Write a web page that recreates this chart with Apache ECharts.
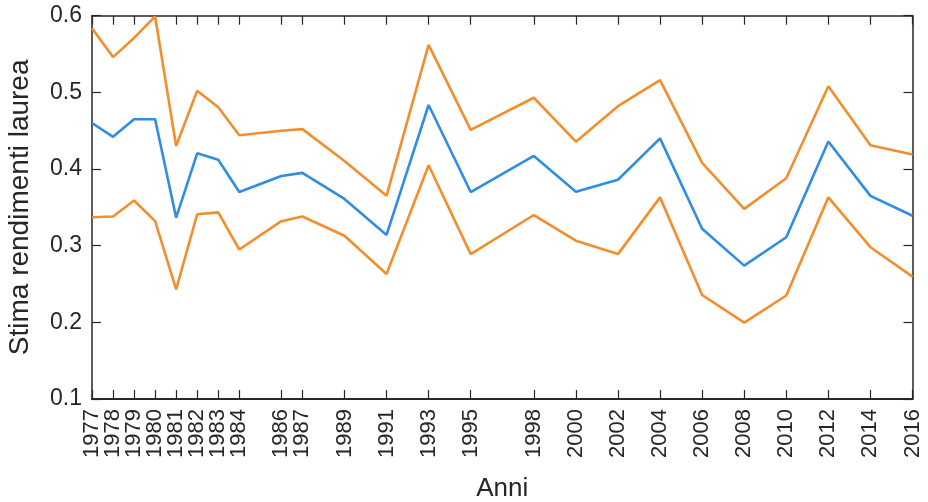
<!DOCTYPE html>
<html>
<head>
<meta charset="utf-8">
<script src="https://cdn.jsdelivr.net/npm/echarts@6/dist/echarts.min.js"></script>
<style>
html,body{margin:0;padding:0;background:#fff;}
#chart{width:928px;height:502px;}
</style>
</head>
<body>
<div id="chart"></div>
<script>
var years = [1977,1978,1979,1980,1981,1982,1983,1984,1986,1987,1989,1991,1993,1995,1998,2000,2002,2004,2006,2008,2010,2012,2014,2016];
var stima = [0.460,0.442,0.465,0.465,0.3365,0.4205,0.412,0.370,0.391,0.395,0.361,0.314,0.4835,0.370,0.417,0.3705,0.386,0.440,0.322,0.274,0.311,0.436,0.365,0.339];
var upper = [0.5835,0.546,0.571,0.599,0.430,0.502,0.4805,0.444,0.450,0.452,0.4105,0.365,0.562,0.451,0.493,0.4357,0.482,0.516,0.408,0.348,0.388,0.508,0.431,0.419];
var lower = [0.337,0.338,0.359,0.332,0.243,0.341,0.3435,0.295,0.332,0.338,0.313,0.263,0.405,0.289,0.340,0.3065,0.289,0.363,0.2357,0.1996,0.235,0.363,0.298,0.2596];
var yTicks = [0.1,0.2,0.3,0.4,0.5,0.6];
var xName = 'Anni';
var yName = 'Stima rendimenti laurea';

function pairs(vals){ return years.map(function(y,i){ return [y, vals[i]]; }); }
// split tick labels into two alternating sets so that neighbours never collide
var yearsA = years.filter(function(y,i){ return i % 2 === 0; });
var yearsB = years.filter(function(y,i){ return i % 2 === 1; });

var txt = '#262626';
var font = 'Liberation Sans, Arial, Helvetica, sans-serif';
function axisLine(){ return {show:true, onZero:false, lineStyle:{color:txt, width:1.5}}; }
function tick(vals){ var t = {show:true, inside:true, length:9, lineStyle:{color:txt, width:1.2}}; if (vals) t.customValues = vals; return t; }
function xLabel(vals){
  return {show:true, customValues:vals, showMinLabel:true, showMaxLabel:true, hideOverlap:false, rotate:90, margin:10, color:txt, fontSize:22, fontFamily:font, formatter:function(v){return String(v);}};
}

var chart = echarts.init(document.getElementById('chart'), null, {renderer:'canvas'});
chart.setOption({
  animation:false,
  backgroundColor:'#fff',
  grid:{left:92, right:15.5, top:15.7, bottom:103, containLabel:false, outerBoundsMode:'none'},
  xAxis:[{
    type:'value', min:1977, max:2016, position:'bottom',
    name:xName, nameLocation:'middle', nameGap:77,
    nameTextStyle:{color:txt, fontSize:26, fontFamily:font},
    axisLine:axisLine(),
    axisTick:{show:false},
    axisLabel:xLabel(yearsA),
    splitLine:{show:false}
  },{
    type:'value', min:1977, max:2016, position:'top',
    axisLine:axisLine(),
    axisTick:tick(years),
    axisLabel:{show:false},
    splitLine:{show:false}
  },{
    type:'value', min:1977, max:2016, position:'bottom',
    axisLine:axisLine(),
    axisTick:{show:false},
    axisLabel:xLabel(yearsB),
    splitLine:{show:false}
  },{
    type:'value', min:1977, max:2016, position:'bottom',
    axisLine:axisLine(),
    axisTick:{show:true, inside:false, length:-9, customValues:years, lineStyle:{color:txt, width:1.2}},
    axisLabel:{show:false},
    splitLine:{show:false}
  }],
  yAxis:[{
    type:'value', min:0.1, max:0.6, interval:0.1, position:'left',
    name:yName, nameLocation:'middle', nameGap:58,
    nameTextStyle:{color:txt, fontSize:28, fontFamily:font},
    axisLine:axisLine(),
    axisTick:tick(),
    axisLabel:{show:true, margin:10, color:txt, fontSize:23, fontFamily:font, formatter:function(v){return v.toFixed(1);}},
    splitLine:{show:false}
  },{
    type:'value', min:0.1, max:0.6, interval:0.1, position:'right',
    axisLine:axisLine(),
    axisTick:tick(),
    axisLabel:{show:false},
    splitLine:{show:false}
  }],
  series:[
    {type:'line', name:'upper', data:pairs(upper), xAxisIndex:0, yAxisIndex:0, showSymbol:false, lineStyle:{color:'#F28E2B', width:2.6}, z:2},
    {type:'line', name:'lower', data:pairs(lower), xAxisIndex:0, yAxisIndex:0, showSymbol:false, lineStyle:{color:'#F28E2B', width:2.6}, z:2},
    {type:'line', name:'stima', data:pairs(stima), xAxisIndex:0, yAxisIndex:0, showSymbol:false, lineStyle:{color:'#2E8DE5', width:2.6}, z:3}
  ]
});
</script>
</body>
</html>
